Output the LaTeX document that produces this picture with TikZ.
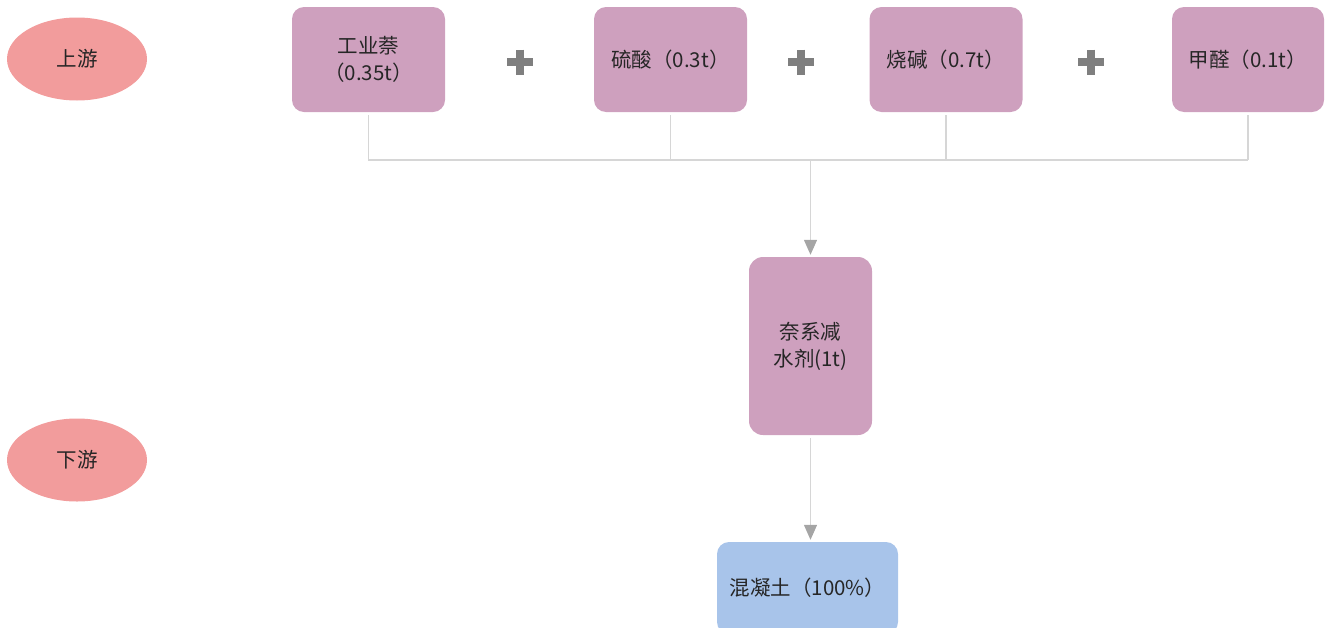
\documentclass[tikz,border=0pt]{standalone}
\usepackage{fontspec}
\newfontfamily\cjk{Noto Sans CJK SC}
\usetikzlibrary{arrows.meta,shapes.geometric}
\definecolor{boxpink}{HTML}{CEA0BE}
\definecolor{ellred}{HTML}{F29C9C}
\definecolor{boxblue}{HTML}{A8C4EA}
\definecolor{linegray}{HTML}{D6D6D6}
\definecolor{tipgray}{HTML}{A5A5A5}
\definecolor{plusgray}{HTML}{7F7F7F}
\definecolor{txt}{HTML}{262626}
\tikzset{
  lbl/.style={font=\cjk\fontsize{20.5}{27}\selectfont, text=txt, align=center},
  stage/.style={lbl, ellipse, fill=ellred, draw=none, minimum width=140pt, minimum height=83pt, inner sep=0pt},
  inbox/.style={lbl, rectangle, rounded corners=12pt, fill=boxpink, draw=none, minimum width=153pt, minimum height=105pt, inner sep=0pt},
  midbox/.style={lbl, rectangle, rounded corners=14pt, fill=boxpink, draw=none, minimum width=123pt, minimum height=178pt, inner sep=0pt},
  outbox/.style={lbl, rectangle, rounded corners=12pt, fill=boxblue, draw=none, minimum width=181pt, minimum height=92pt, inner sep=0pt},
  plussign/.style={minimum width=26pt, minimum height=25pt, inner sep=0pt, draw=none,
    path picture={
      \draw[plusgray, line width=7.5pt] (path picture bounding box.north) -- (path picture bounding box.south);
      \draw[plusgray, line width=7.5pt] (path picture bounding box.west) -- (path picture bounding box.east);
    }},
  conn/.style={draw=linegray, line width=1.3pt},
  arr/.style={conn, -{Triangle[width=13pt,length=15pt,color=tipgray]}},
}
\begin{document}
\begin{tikzpicture}[x=1pt,y=-1pt]
\useasboundingbox (0,0) rectangle (1327,627);
\node[stage] (up) at (77,59) {上游};
\node[stage] (down) at (77,460) {下游};
\node[inbox] (b1) at (368.5,59.5) {工业萘\\（0.35t）};
\node[inbox] (b2) at (670.5,59.5) {硫酸（0.3t）};
\node[inbox] (b3) at (946,59.5) {烧碱（0.7t）};
\node[inbox, minimum width=152pt] (b4) at (1248,59.5) {甲醛（0.1t）};
\node[plussign] (p1) at (520,62) {};
\node[plussign] (p2) at (801,62) {};
\node[plussign] (p3) at (1091,62) {};
\node[midbox] (n) at (810.5,346) {奈系减\\水剂(1t)};
\node[outbox] (c) at (807.5,588) {混凝土（100\%）};
\coordinate (j) at (810.5,160);
\draw[conn, shorten <=3pt] (b1.south) |- (b4.south |- j);
\draw[conn, shorten <=3pt] (b4.south) -- (b4.south |- j);
\draw[conn, shorten <=3pt] (b2.south) -- (b2.south |- j);
\draw[conn, shorten <=3pt] (b3.south) -- (b3.south |- j);
\draw[arr, shorten >=2pt] (j) -- (n.north);
\draw[arr, shorten <=3pt, shorten >=2pt] (n.south) -- (n.south |- c.north);
\end{tikzpicture}
\end{document}
